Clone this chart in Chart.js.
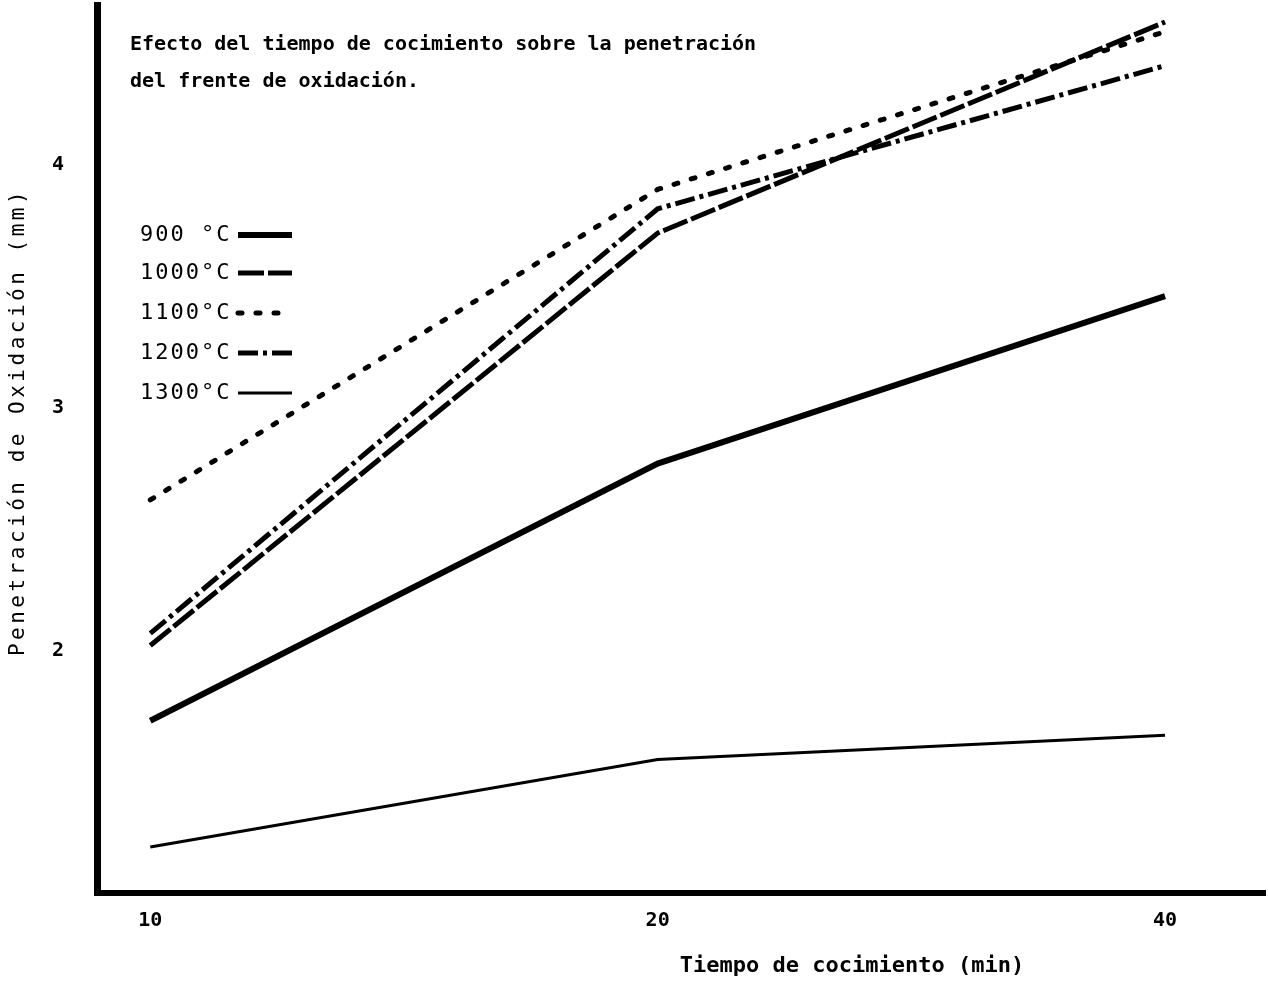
<!DOCTYPE html>
<html>
<head>
<meta charset="utf-8">
<script src="https://cdn.jsdelivr.net/npm/chart.js@4/dist/chart.umd.min.js"></script>
<style>
  html, body { margin: 0; padding: 0; background: #fff; }
  #c { display: block; }
</style>
</head>
<body>
<canvas id="c" width="1268" height="981"></canvas>
<script>
// ---- data ----
const timeLabels = ['10', '20', '40'];
const seriesLabels = ['900 °C', '1000°C', '1100°C', '1200°C', '1300°C'];
const s900  = [1.71, 2.77, 3.46];
const s1000 = [2.02, 3.72, 4.59];
const s1100 = [2.62, 3.90, 4.55];
const s1200 = [2.07, 3.82, 4.41];
const s1300 = [1.19, 1.55, 1.65];
const yTicks = [2, 3, 4];
const titleLines = ['Efecto del tiempo de cocimiento sobre la penetración', 'del frente de oxidación.'];
const xTitle = 'Tiempo de cocimiento (min)';
const yTitle = 'Penetración de Oxidación (mm)';

const toPts = arr => arr.map((v, i) => ({ x: i, y: v }));

const styles = [
  { borderWidth: 6, borderDash: [], borderCapStyle: 'butt' },
  { borderWidth: 5, borderDash: [26, 4], borderCapStyle: 'butt' },
  { borderWidth: 5, borderDash: [4, 14], borderCapStyle: 'round' },
  { borderWidth: 5, borderDash: [20, 5, 4, 5], borderCapStyle: 'butt' },
  { borderWidth: 3, borderDash: [], borderCapStyle: 'butt' }
];
const seriesData = [s900, s1000, s1100, s1200, s1300];

const datasets = seriesData.map((arr, i) => Object.assign({
  label: seriesLabels[i],
  data: toPts(arr),
  borderColor: '#000',
  backgroundColor: '#000',
  pointRadius: 0,
  tension: 0,
  fill: false
}, styles[i]));

const MONO = '"DejaVu Sans Mono", "Liberation Mono", monospace';

const textPlugin = {
  id: 'texts',
  afterDraw(chart) {
    const ctx = chart.ctx;
    ctx.save();
    ctx.fillStyle = '#000';
    ctx.textBaseline = 'middle';

    // Title
    ctx.font = 'bold 20px ' + MONO;
    ctx.textAlign = 'left';
    ctx.fillText(titleLines[0], 130, 45);
    ctx.fillText(titleLines[1], 130, 82);

    // X title
    ctx.font = 'bold 22px ' + MONO;
    ctx.textAlign = 'center';
    ctx.fillText(xTitle, 852, 966);

    // Y title
    ctx.save();
    ctx.translate(19, 422);
    ctx.rotate(-Math.PI / 2);
    ctx.font = '21px ' + MONO;
    try { ctx.letterSpacing = '3.5px'; } catch (e) {}
    ctx.textAlign = 'center';
    ctx.fillText(yTitle, 0, 0);
    ctx.restore();

    // Legend (text left, line sample right)
    const ys = [235, 273, 313, 353, 393];
    chart.data.datasets.forEach((ds, i) => {
      ctx.save();
      ctx.font = '22px ' + MONO;
      try { ctx.letterSpacing = '2px'; } catch (e) {}
      ctx.textAlign = 'left';
      ctx.fillText(ds.label, 140, ys[i]);
      ctx.restore();
      ctx.save();
      ctx.strokeStyle = '#000';
      ctx.lineWidth = ds.borderWidth;
      ctx.lineCap = ds.borderCapStyle;
      ctx.setLineDash(ds.borderDash || []);
      ctx.beginPath();
      ctx.moveTo(238, ys[i]);
      ctx.lineTo(292, ys[i]);
      ctx.stroke();
      ctx.restore();
    });
    ctx.restore();
  }
};

new Chart(document.getElementById('c'), {
  type: 'line',
  data: { datasets },
  options: {
    responsive: false,
    animation: false,
    devicePixelRatio: 1,
    layout: { padding: { top: 5, right: 3, left: 0, bottom: 0 } },
    plugins: { legend: { display: false }, title: { display: false }, tooltip: { enabled: false } },
    scales: {
      x: {
        type: 'linear',
        min: -0.105,
        max: 2.197,
        afterBuildTicks: s => { s.ticks = timeLabels.map((_, i) => ({ value: i })); },
        afterFit: s => { s.height = 88; s.paddingLeft = 0; s.paddingRight = 0; s.paddingTop = 0; s.paddingBottom = 0; },
        grid: { display: false },
        border: { display: true, color: '#000', width: 6 },
        ticks: {
          color: '#000',
          font: { family: MONO, size: 20, weight: 'bold' },
          padding: 8,
          maxRotation: 0,
          callback: v => timeLabels[v]
        }
      },
      y: {
        type: 'linear',
        min: 1.0,
        max: 4.66,
        afterBuildTicks: s => { s.ticks = yTicks.map(v => ({ value: v })); },
        afterFit: s => { s.width = 97; s.paddingTop = 0; s.paddingBottom = 0; s.paddingLeft = 0; s.paddingRight = 0; },
        grid: { display: false },
        border: { display: true, color: '#000', width: 7 },
        ticks: {
          color: '#000',
          font: { family: MONO, size: 20, weight: 'bold' },
          padding: 25,
          callback: v => String(v)
        }
      }
    }
  },
  plugins: [textPlugin]
});
</script>
</body>
</html>
